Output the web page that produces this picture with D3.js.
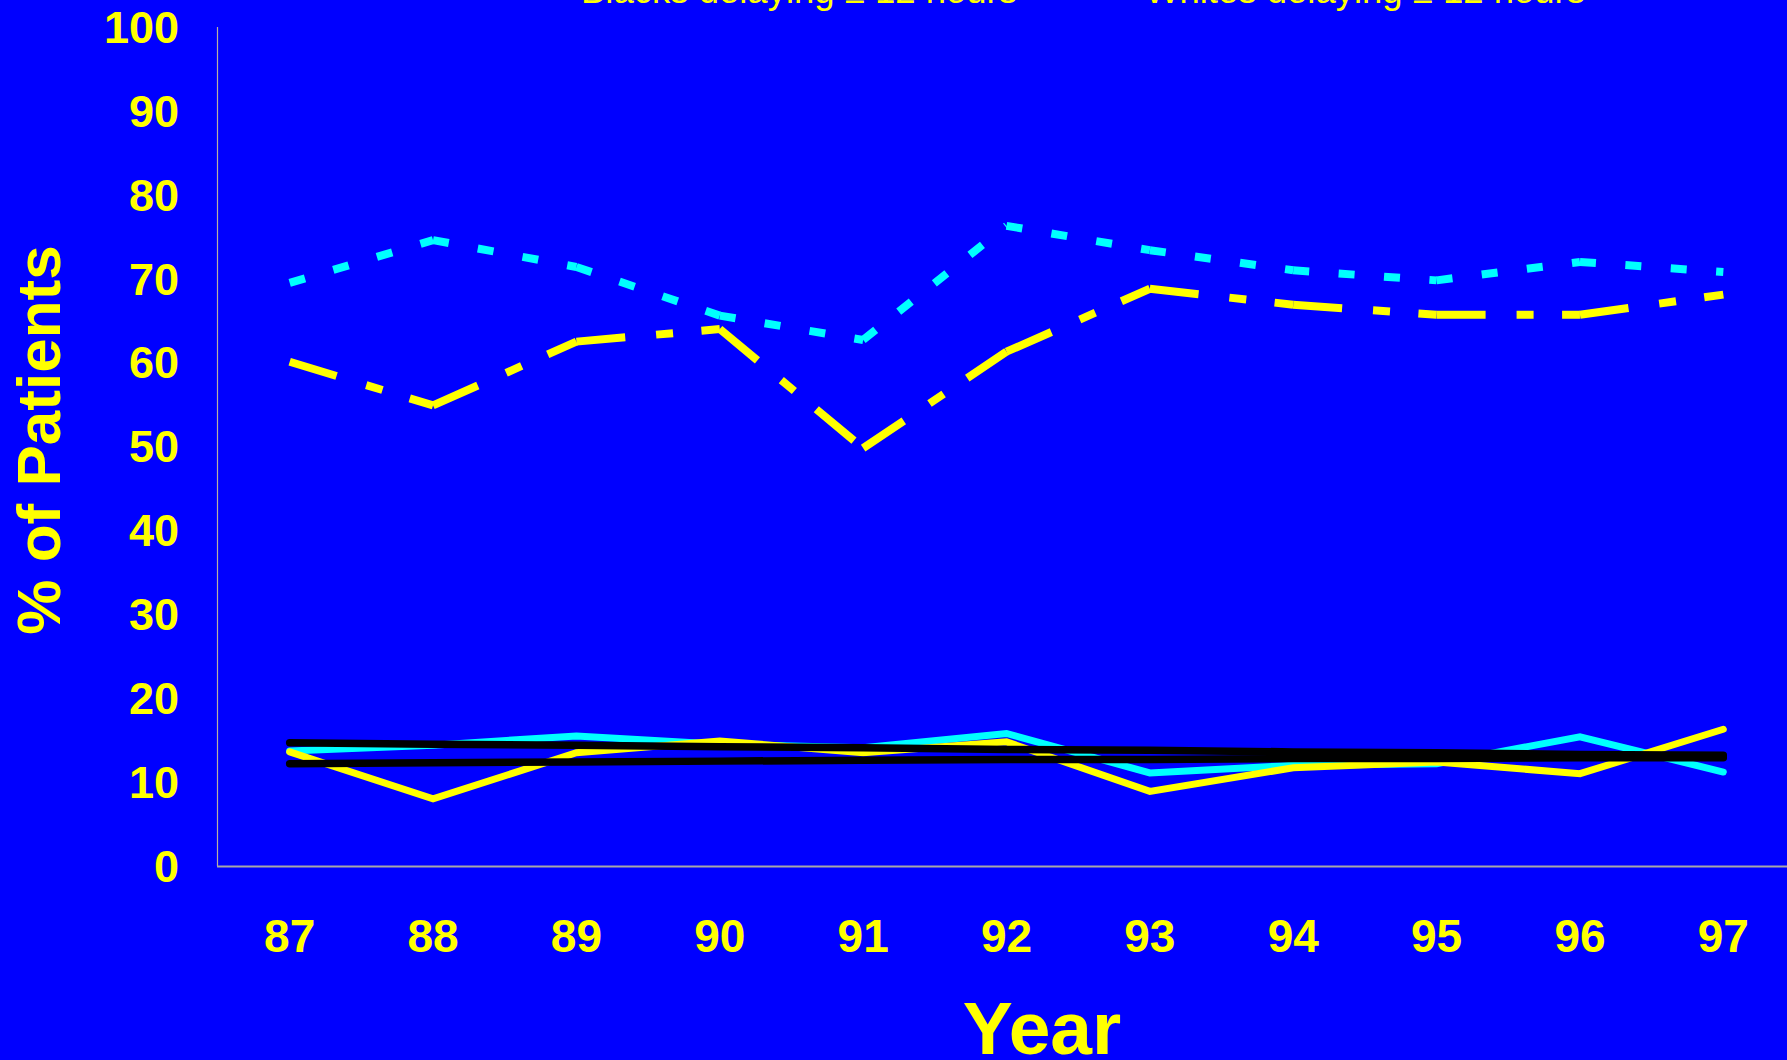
<!DOCTYPE html>
<html>
<head>
<meta charset="utf-8">
<script src="https://cdn.jsdelivr.net/npm/d3@7"></script>
<style>
  html, body { margin: 0; padding: 0; background: #0000ff; overflow: hidden; }
  svg { display: block; }
  text { font-family: "Liberation Sans", Arial, Helvetica, sans-serif; fill: #ffff00; }
</style>
</head>
<body>
<svg id="chart" width="1787" height="1060"></svg>
<script>
// Years on the x axis
const years = ["87", "88", "89", "90", "91", "92", "93", "94", "95", "96", "97"];

// % of patients, by year
const whitesOver12 = [69.5, 74.6, 71.4, 65.6, 62.7, 76.3, 73.4, 71.0, 69.8, 72.0, 70.8];
const blacksOver12 = [60.1, 54.9, 62.5, 64.0, 49.8, 61.3, 68.8, 66.9, 65.7, 65.7, 68.1];
const whitesUnder12 = [13.7, 14.4, 15.5, 14.5, 14.1, 15.8, 11.1, 12.0, 12.2, 15.4, 11.2];
const blacksUnder12 = [13.6, 8.0, 13.5, 14.9, 13.5, 14.8, 8.9, 11.7, 12.4, 11.0, 16.3];
const trendUpper = [14.7, 14.5, 14.4, 14.2, 14.1, 13.9, 13.8, 13.6, 13.5, 13.3, 13.2];
const trendLower = [12.2, 12.3, 12.4, 12.5, 12.6, 12.7, 12.7, 12.8, 12.8, 12.9, 12.9];

// Axis ticks
const yTicks = [0, 10, 20, 30, 40, 50, 60, 70, 80, 90, 100];

// Legend labels
const legendLabels = ["Blacks delaying \u2265 12 hours", "Whites delaying \u2265 12 hours"];

const svg = d3.select("#chart");
const W = 1787, H = 1060;

svg.append("rect").attr("width", W).attr("height", H).attr("fill", "#0000ff");

const x = d3.scaleBand().domain(years).range([218, 1795]).padding(0);
const y = d3.scaleLinear().domain([0, 100]).range([866, 27]);
const cx = d => x(d) + x.bandwidth() / 2;

// Axis lines
svg.append("line")
  .attr("x1", 217.5).attr("x2", 217.5).attr("y1", y(100)).attr("y2", y(0))
  .attr("stroke", "#b8b0a0").attr("stroke-width", 1.2);
svg.append("line")
  .attr("x1", 217).attr("x2", W).attr("y1", y(0) + 0.5).attr("y2", y(0) + 0.5)
  .attr("stroke", "#a8a8a8").attr("stroke-width", 2);

// Y tick labels
const yAxis = svg.append("g")
  .attr("transform", "translate(179,0)")
  .call(d3.axisLeft(y).tickValues(yTicks).tickSize(0).tickPadding(0));
yAxis.select(".domain").remove();
yAxis.selectAll("text")
  .attr("fill", "#ffff00")
  .style("font-family", "\"Liberation Sans\", Arial, sans-serif")
  .style("font-size", "45px")
  .style("font-weight", "bold")
  .attr("dy", "0.34em");

// X tick labels
const xAxis = svg.append("g")
  .attr("transform", "translate(0,952)")
  .call(d3.axisBottom(x).tickSize(0).tickPadding(0));
xAxis.select(".domain").remove();
xAxis.selectAll("text")
  .attr("fill", "#ffff00")
  .attr("dy", "0")
  .attr("y", 0)
  .style("font-family", "\"Liberation Sans\", Arial, sans-serif")
  .style("font-size", "46px")
  .style("font-weight", "bold");

// Axis titles
svg.append("text")
  .attr("x", 1042).attr("y", 1054)
  .attr("text-anchor", "middle")
  .style("font-size", "75px").style("font-weight", "bold")
  .text("Year");

svg.append("text")
  .attr("transform", "translate(60,440) rotate(-90)")
  .attr("text-anchor", "middle")
  .style("font-size", "62px").style("font-weight", "bold")
  .text("% of Patients");

// Legend text, partly above the top edge
svg.append("text")
  .attr("x", 581).attr("y", 3)
  .style("font-size", "36.5px")
  .text(legendLabels[0]);
svg.append("text")
  .attr("x", 1145).attr("y", 3)
  .style("font-size", "36.5px")
  .text(legendLabels[1]);

const line = d3.line().x(d => cx(d.year)).y(d => y(d.value));
const pts = arr => years.map((yr, i) => ({ year: yr, value: arr[i] }));

// Patterned series: the dash pattern restarts on each segment
function dashedSeries(arr, color, dash, width) {
  const p = pts(arr);
  const g = svg.append("g");
  for (let i = 0; i < p.length - 1; i++) {
    g.append("path")
      .attr("d", line([p[i], p[i + 1]]))
      .attr("fill", "none")
      .attr("stroke", color)
      .attr("stroke-width", width)
      .attr("stroke-dasharray", dash)
      .attr("stroke-linecap", "butt");
  }
}

function solidSeries(arr, color, width) {
  svg.append("path")
    .attr("d", line(pts(arr)))
    .attr("fill", "none")
    .attr("stroke", color)
    .attr("stroke-width", width)
    .attr("stroke-linecap", "round")
    .attr("stroke-linejoin", "miter");
}

dashedSeries(whitesOver12, "#00ffff", "16,29.5", 8);
dashedSeries(blacksOver12, "#ffff00", "49,31,17,28.5", 8);
solidSeries(whitesUnder12, "#00ffff", 7);
solidSeries(blacksUnder12, "#ffff00", 7);
solidSeries(trendUpper, "#000000", 7.5);
solidSeries(trendLower, "#000000", 7.5);
</script>
</body>
</html>
